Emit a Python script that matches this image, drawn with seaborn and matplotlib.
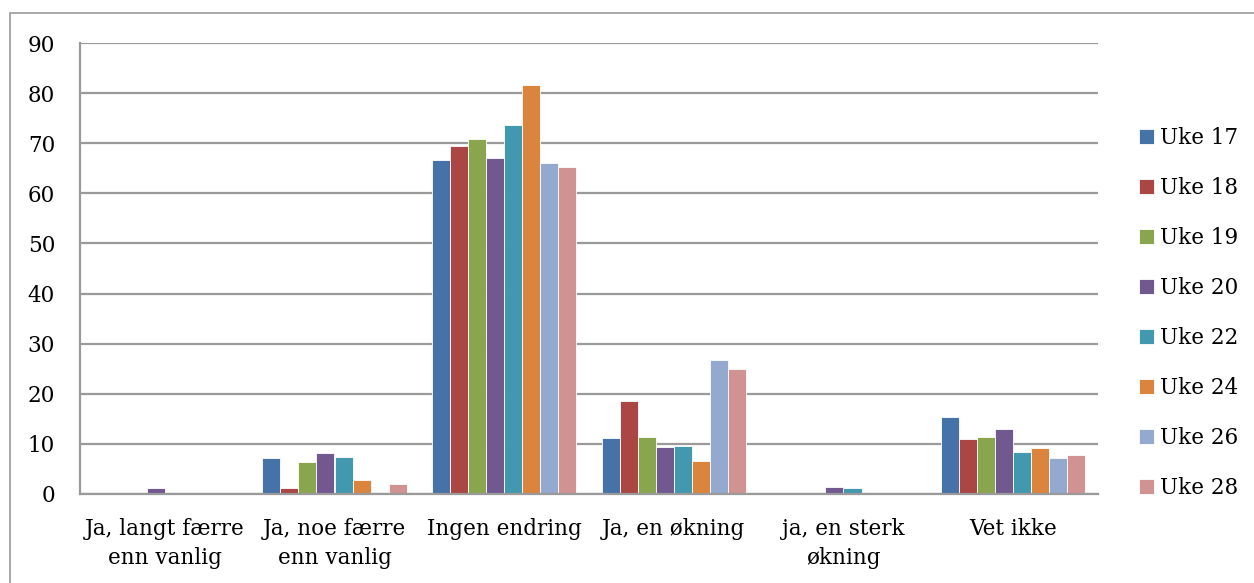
import numpy as np
import pandas as pd
import seaborn as sns
import matplotlib.pyplot as plt
from matplotlib.patches import Rectangle

# kategorier og serier
categories = ['Ja, langt færre\nenn vanlig', 'Ja, noe færre\nenn vanlig', 'Ingen endring',
              'Ja, en økning', 'ja, en sterk\nøkning', 'Vet ikke']
weeks = ['Uke 17', 'Uke 18', 'Uke 19', 'Uke 20', 'Uke 22', 'Uke 24', 'Uke 26', 'Uke 28']

uke17 = [0, 7.1, 66.7, 11.1, 0, 15.3]
uke18 = [0, 1.1, 69.5, 18.5, 0, 10.9]
uke19 = [0, 6.4, 70.9, 11.3, 0, 11.4]
uke20 = [1.2, 8.2, 67.0, 9.3, 1.3, 12.9]
uke22 = [0, 7.4, 73.7, 9.5, 1.1, 8.4]
uke24 = [0, 2.7, 81.7, 6.5, 0, 9.1]
uke26 = [0, 0, 66.0, 26.7, 0, 7.1]
uke28 = [0, 1.9, 65.3, 25.0, 0, 7.7]

colors = ['#4572A7', '#AA4643', '#89A54E', '#71588F', '#4198AF', '#DB843D', '#93A9CF', '#D19392']

series = [uke17, uke18, uke19, uke20, uke22, uke24, uke26, uke28]
rows = []
for w, vals in zip(weeks, series):
    for c, v in zip(categories, vals):
        rows.append({'kategori': c, 'uke': w, 'verdi': v})
df = pd.DataFrame(rows)

sns.set_style('white')
plt.rcParams['font.family'] = ['DejaVu Serif']
plt.rcParams['text.color'] = 'black'
plt.rcParams['xtick.color'] = 'black'
plt.rcParams['ytick.color'] = 'black'

fig = plt.figure(figsize=(12.54, 5.83), dpi=100)
ax = fig.add_axes([80 / 1254, 1 - 494 / 583, (1098 - 80) / 1254, (494 - 43) / 583])

sns.barplot(data=df, x='kategori', y='verdi', hue='uke', order=categories, hue_order=weeks,
            palette=colors, width=0.85, gap=0, edgecolor='white', linewidth=0.6,
            saturation=1, ax=ax)

ax.set_ylim(0, 90)
ax.set_xlim(-0.5, 5.5)
ax.set_yticks(np.arange(0, 91, 10))
ax.yaxis.grid(True, color='#9a9a9a', linewidth=1.6)
ax.set_axisbelow(True)
ax.set_xlabel('')
ax.set_ylabel('')

for s in ['top', 'right']:
    ax.spines[s].set_visible(False)
for s in ['left', 'bottom']:
    ax.spines[s].set_color('#9a9a9a')
    ax.spines[s].set_linewidth(1.6)

ax.tick_params(axis='y', length=8, width=1.6, color='#9a9a9a', labelsize=15.5, pad=10)
ax.tick_params(axis='x', which='major', length=0, labelsize=15.5, pad=17)
for lab in ax.get_xticklabels():
    lab.set_linespacing(1.45)
ax.set_xticks(np.arange(-0.5, 6, 1), minor=True)
ax.tick_params(axis='x', which='minor', length=7, width=1.6, color='#9a9a9a')

ax.legend(loc='upper left', bbox_to_anchor=(1.04, (494 - 127) / 451), frameon=False, fontsize=15.5,
          handlelength=0.7, handleheight=0.7, handletextpad=0.3, labelspacing=1.3,
          borderaxespad=0, borderpad=0)

# ramme rundt figuren
fig.patches.append(Rectangle((10 / 1254, -0.1), 1.2, 1 - 13 / 583 + 0.1, transform=fig.transFigure,
                             fill=False, edgecolor='#9a9a9a', linewidth=1.2))

plt.savefig('out.png', dpi=100)
